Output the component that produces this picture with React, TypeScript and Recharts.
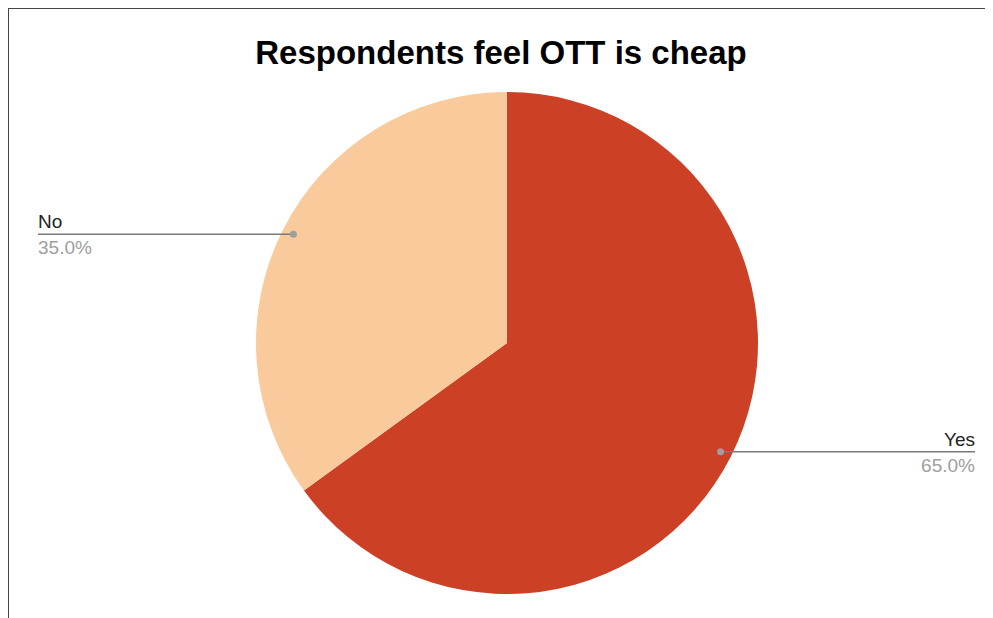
import { Cell, Pie, PieChart } from "recharts";

const answers = ["Yes", "No"];
const shares = [65, 35];
const sliceColors = ["#cc4125", "#f9cb9c"];

const data = answers.map((name, i) => ({ name, value: shares[i] }));

const W = 984;
const H = 609;
const RADIAN = Math.PI / 180;

function SliceLabel(props: any) {
  const { cx, cy, midAngle, outerRadius, percent, name } = props;
  const r = outerRadius * 0.955;
  const x = cx + r * Math.cos(-midAngle * RADIAN);
  const y = cy + r * Math.sin(-midAngle * RADIAN);
  const right = x > cx;
  const endX = right ? W - 18 : 29;
  return (
    <g>
      <line x1={x} y1={y} x2={endX} y2={y} stroke="#7a7a7a" strokeWidth={1.5} />
      <circle cx={x} cy={y} r={3.5} fill="#9e9e9e" />
      <text
        x={endX}
        y={y - 6}
        textAnchor={right ? "end" : "start"}
        fontSize={19}
        fill="#222"
      >
        {name}
      </text>
      <text
        x={endX}
        y={y + 20}
        textAnchor={right ? "end" : "start"}
        fontSize={19}
        fill="#9e9e9e"
      >
        {(percent * 100).toFixed(1)}%
      </text>
    </g>
  );
}

export default function App() {
  return (
    <div
      style={{
        position: "relative",
        width: W,
        height: H,
        marginLeft: -1,
        marginTop: -1,
        borderTop: "2px solid #444",
        borderLeft: "2px solid #444",
        background: "#fff",
        fontFamily: "'Liberation Sans', Arial, sans-serif",
      }}
    >
      <div
        style={{
          position: "absolute",
          left: 0,
          top: 25,
          width: W,
          textAlign: "center",
          fontSize: 33,
          fontWeight: "bold",
          color: "#000",
        }}
      >
        Respondents feel OTT is cheap
      </div>
      <PieChart
        width={W}
        height={H}
        margin={{ top: 0, right: 0, bottom: 0, left: 0 }}
      >
        <Pie
          data={data}
          dataKey="value"
          nameKey="name"
          cx={498}
          cy={334}
          outerRadius={251}
          startAngle={90}
          endAngle={-270}
          stroke="none"
          label={SliceLabel}
          labelLine={false}
          isAnimationActive={false}
        >
          {data.map((d, i) => (
            <Cell key={d.name} fill={sliceColors[i]} />
          ))}
        </Pie>
      </PieChart>
    </div>
  );
}
